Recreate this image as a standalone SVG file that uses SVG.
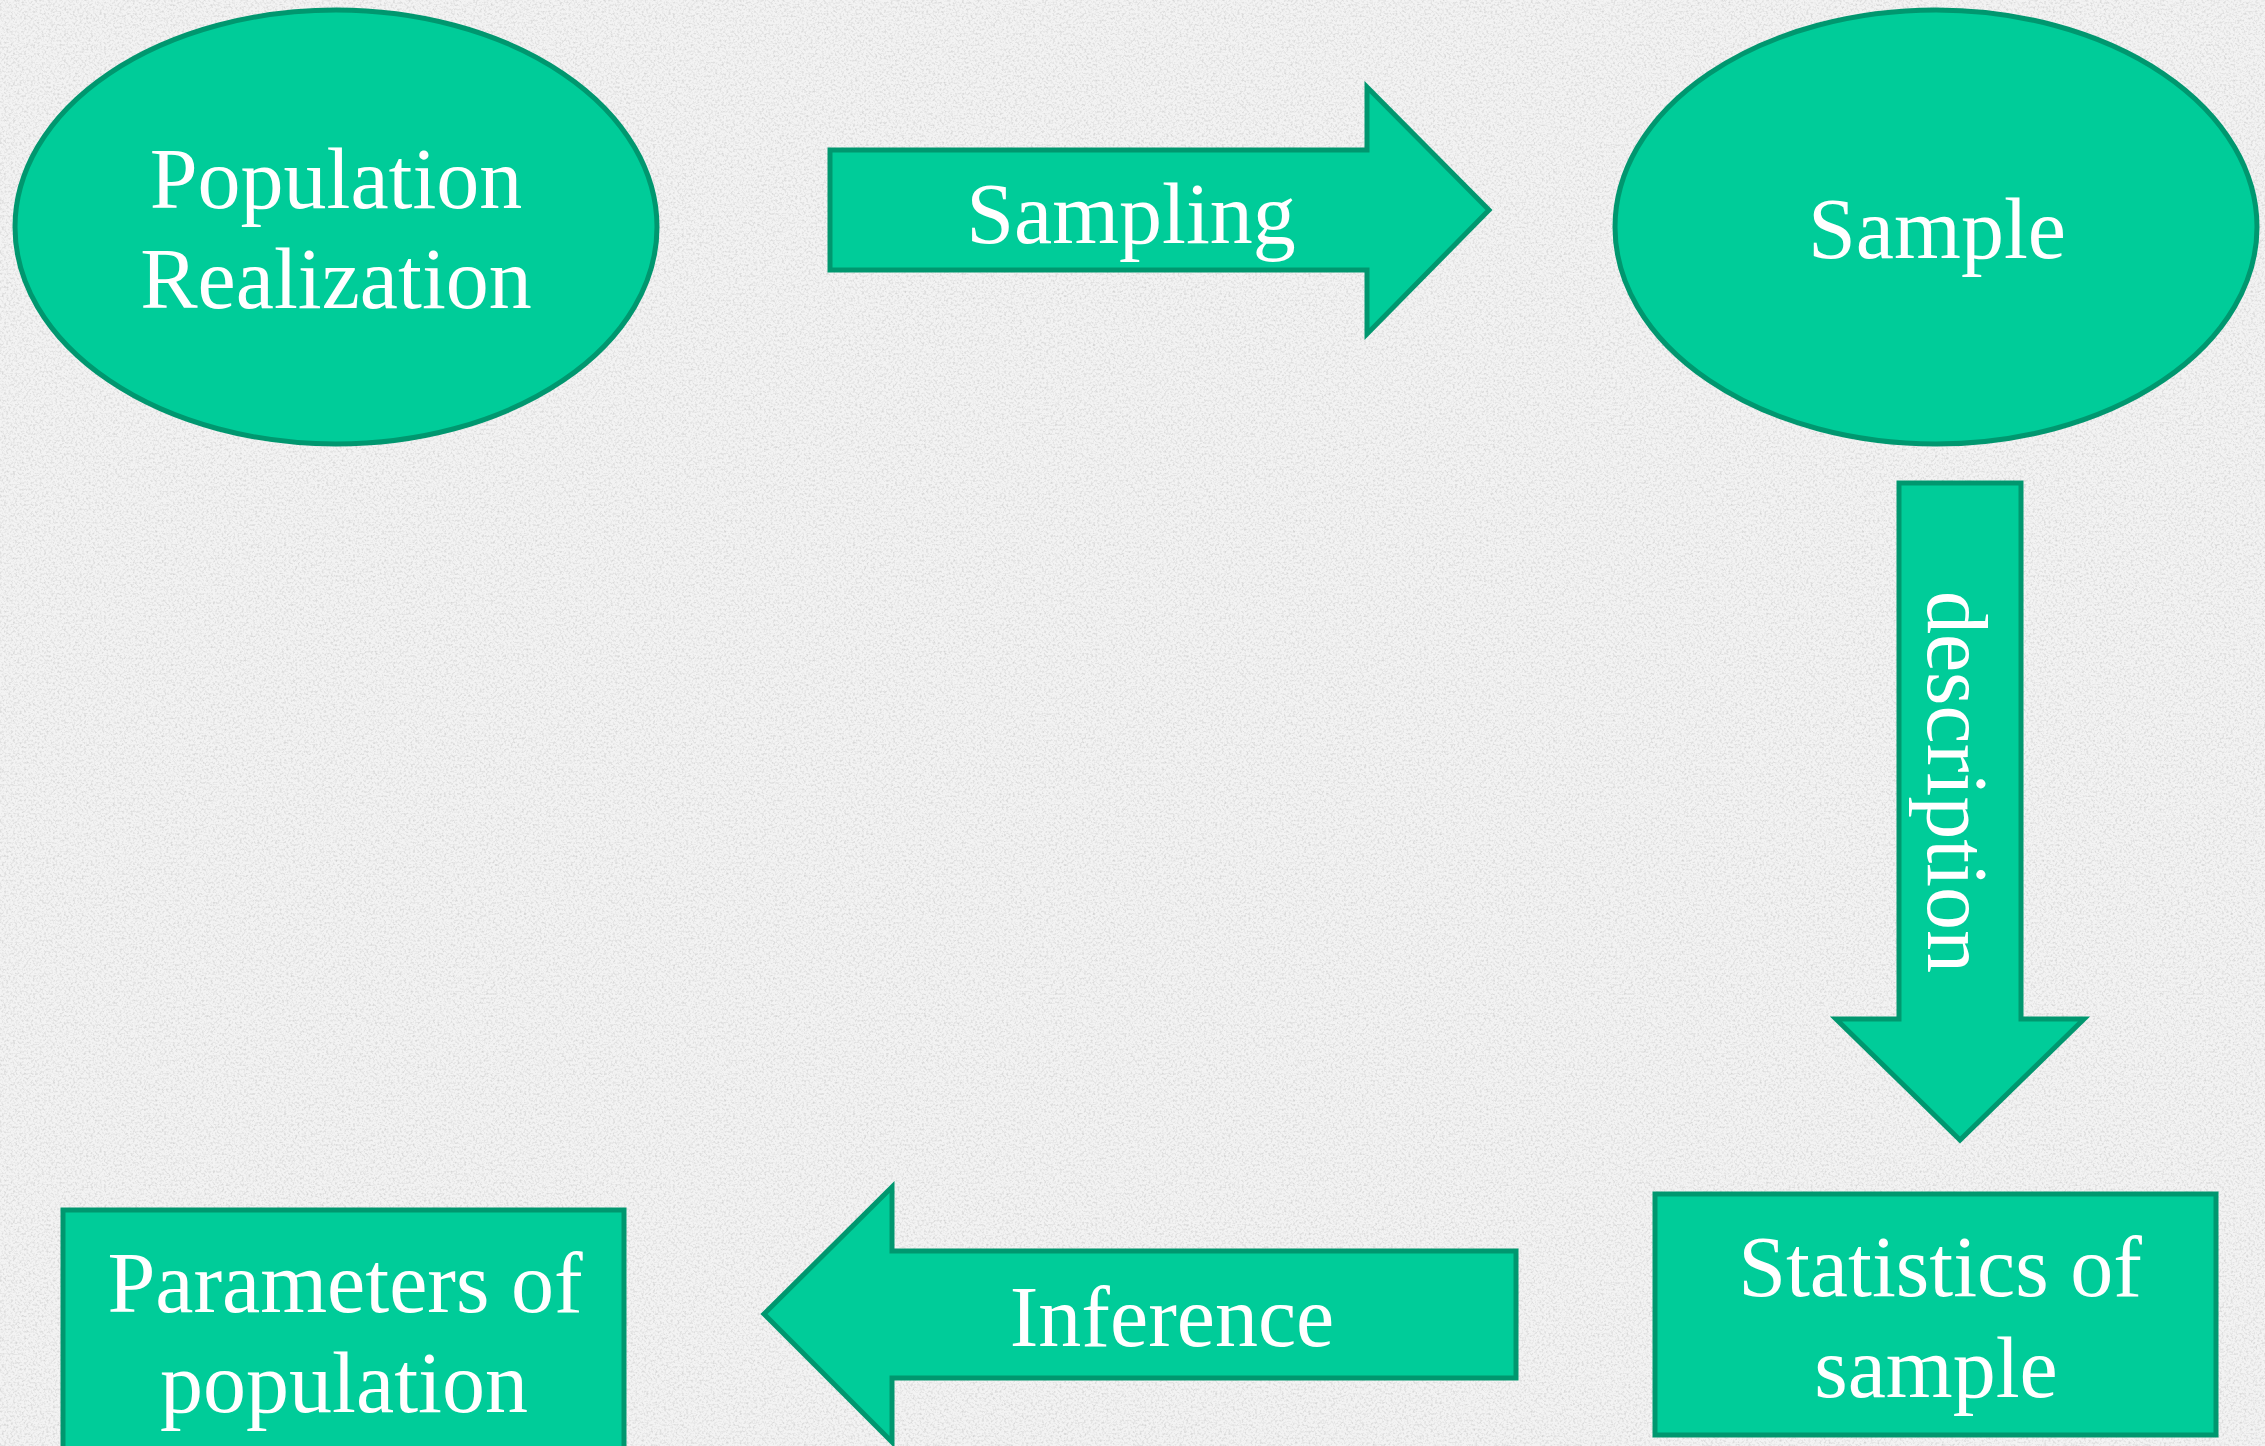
<svg xmlns="http://www.w3.org/2000/svg" width="2265" height="1446" viewBox="0 0 2265 1446">
  <defs>
    <filter id="paper" x="0" y="0" width="100%" height="100%" filterUnits="userSpaceOnUse">
      <feTurbulence type="fractalNoise" baseFrequency="0.45" numOctaves="2" seed="7"/>
      <feColorMatrix type="matrix" values="0 0 0 0 0.6  0 0 0 0 0.6  0 0 0 0 0.6  1.8 0 0 0 -0.8"/>
    </filter>
    <style>
      .shape { fill: #00cc99; stroke: #00976f; stroke-width: 5; stroke-linejoin: miter; }
      .label { font-family: "Liberation Serif", "Times New Roman", serif; font-size: 86px; fill: #ffffff; text-anchor: middle; }
    </style>
  </defs>

  <rect x="0" y="0" width="2265" height="1446" fill="#f3f3f3"/>
  <rect x="0" y="0" width="2265" height="1446" filter="url(#paper)"/>

  <g id="population-realization">
    <ellipse class="shape" cx="336" cy="227" rx="321" ry="217"/>
    <text class="label" x="336" y="208">Population</text>
    <text class="label" x="336" y="308">Realization</text>
  </g>

  <g id="sample">
    <ellipse class="shape" cx="1936" cy="227" rx="321" ry="217"/>
    <text class="label" x="1937" y="258">Sample</text>
  </g>

  <g id="statistics-of-sample">
    <rect class="shape" x="1655" y="1194" width="561" height="241"/>
    <text class="label" x="1940" y="1296">Statistics of</text>
    <text class="label" x="1936" y="1397">sample</text>
  </g>

  <g id="parameters-of-population">
    <rect class="shape" x="63" y="1210" width="561" height="260"/>
    <text class="label" x="345" y="1312">Parameters of</text>
    <text class="label" x="344" y="1412">population</text>
  </g>

  <g id="connectors">
    <g id="sampling-arrow">
      <polygon class="shape" points="830,150 1367,150 1367,87 1489,210 1367,334 1367,270 830,270"/>
      <text class="label" x="1131" y="243">Sampling</text>
    </g>
    <g id="description-arrow">
      <polygon class="shape" points="1899,483 2021,483 2021,1019 2084,1019 1960,1140 1836,1019 1899,1019"/>
      <text class="label" transform="translate(1928,782) rotate(90)">description</text>
    </g>
    <g id="inference-arrow">
      <polygon class="shape" points="1516,1251 892,1251 892,1187 764,1314 892,1442 892,1378 1516,1378"/>
      <text class="label" x="1172" y="1346">Inference</text>
    </g>
  </g>
</svg>
